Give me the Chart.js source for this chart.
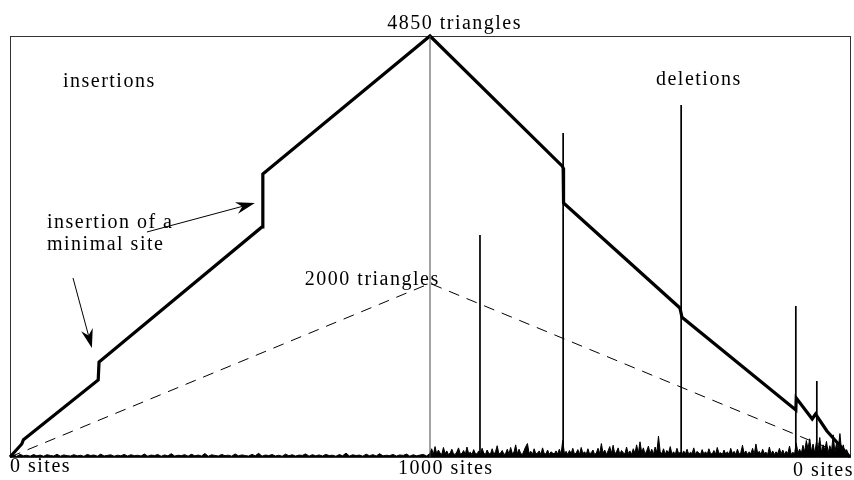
<!DOCTYPE html>
<html>
<head>
<meta charset="utf-8">
<script src="https://cdn.jsdelivr.net/npm/chart.js@4"></script>
<style>
html,body{margin:0;padding:0;background:#fff;}
#wrap{width:854px;height:480px;position:relative;}
</style>
</head>
<body>
<div id="wrap"><canvas id="c"></canvas></div>
<script>
// ---- data ----
// main curve: number of triangles vs operation step (0..1000 insertions, 1000..2000 deletions)
const triSteps  = [0, 28, 32, 210, 212, 600, 602, 1000, 1315, 1317, 1318, 1595, 1600, 1871, 1872, 1910, 1918, 1945, 2000];
const triValues = [0, 150, 200, 887, 1094, 2650, 3260, 4850, 3350, 3330, 2926, 1717, 1610, 541, 680, 438, 495, 300, 0];

// dashed reference: 2000 triangles peak
const refSteps  = [0, 1000, 2000];
const refValues = [0, 2000, 0];

// per-operation cost noise, insertion phase (every 8 steps from 0)
const noiseInsStep = 8;
const noiseIns = [
12,25,8,30,15,20,10,28,14,22,9,26,18,12,31,10,24,16,11,27,
13,20,8,29,17,23,10,33,12,19,25,9,21,14,30,11,26,15,20,12,
34,10,22,17,28,9,24,13,38,11,20,16,27,10,31,14,22,12,40,9,
25,18,12,29,15,21,10,35,13,24,17,11,30,14,42,10,23,16,28,12,
20,9,33,15,26,11,22,18,36,10,27,13,24,12,30,16,21,9,28,14,
45,11,25,17,22,10,32,15,27,12,38,13,20,16,29,11,24,18,34,10,
26,14,22,30,12];

// per-operation cost noise, deletion phase (every 4 steps from 1000)
const noiseDelStart = 1000;
const noiseDelStep = 4;
const noiseDel = [
40,95,30,120,35,80,45,30,110,40,70,30,45,90,35,30,60,105,35,40,75,30,115,40,55,
30,85,40,35,70,30,100,45,30,80,40,35,95,30,60,130,35,45,75,30,40,90,35,110,40,
55,140,35,90,40,30,75,120,155,40,65,30,95,35,45,70,30,105,40,35,80,30,60,45,35,
70,35,90,30,190,40,65,30,75,40,100,35,45,85,30,110,40,60,30,95,35,50,80,30,45,
100,35,155,45,80,30,70,120,40,135,35,60,105,30,75,50,35,115,40,70,30,95,45,140,40,
175,55,105,35,70,125,40,90,30,115,50,240,65,35,95,30,75,45,120,35,60,30,100,40,55,
30,70,35,90,30,55,40,105,30,65,45,30,85,35,60,30,95,40,35,75,30,110,40,50,30,
80,35,60,30,100,40,65,30,90,35,50,135,40,70,30,60,35,100,30,150,45,65,30,90,40,
55,30,115,35,70,30,60,40,100,35,80,30,65,40,125,30,55,35,160,45,90,40,135,60,190,
95,210,60,150,45,170,75,225,55,140,85,180,50,130,70,255,60,160,95,270,65,140,40,85,30];

// isolated expensive deletions (spikes)
const spikeSteps  = [1119, 1317, 1598, 1871, 1921];
const spikeValues = [2558, 3733, 4055, 1740, 876];

// separator between phases
const sepStep = 1000;
const yMax = 4850;
const xMax = 2000;

// ---- annotations (data coordinates) ----
const labelTexts  = ['4850 triangles','insertions','deletions','insertion of a','minimal site','2000 triangles','0 sites','1000 sites','0 sites'];
const labelSteps  = [898, 126, 1538, 88, 88, 702, 0, 924, 1864];
const labelValues = [4931, 4262, 4285, 2638, 2385, 1981, -173, -196, -219];
const arrowFrom = [[326, 2592], [150, 2062]];
const arrowTo   = [[583, 2926], [195, 1256]];

// ---- build tables ----
const triPts = triSteps.map((s,i)=>({x:s,y:triValues[i]}));
const refPts = refSteps.map((s,i)=>({x:s,y:refValues[i]}));
const noisePts = noiseIns.map((v,i)=>({x:i*noiseInsStep,y:v}))
  .concat(noiseDel.map((v,i)=>({x:noiseDelStart+i*noiseDelStep,y:v})));
const spikePts = [];
spikeSteps.forEach((s,i)=>{
  spikePts.push({x:s,y:0},{x:s,y:spikeValues[i]},{x:s+0.01,y:null});
});
const sepPts = [{x:sepStep,y:0},{x:sepStep,y:yMax}];

const decor = {
  id:'decor',
  beforeDatasetsDraw(chart){
    const {ctx, chartArea:a} = chart;
    ctx.save();
    ctx.strokeStyle='#333';
    ctx.lineWidth=1;
    ctx.strokeRect(Math.round(a.left)+0.5, Math.round(a.top)+0.5, Math.round(a.right-a.left), Math.round(a.bottom-a.top));
    ctx.restore();
  },
  afterDraw(chart){
    const {ctx, scales:{x,y}} = chart;
    ctx.save();
    ctx.fillStyle='#000';
    ctx.font='20px "Liberation Serif", serif';
    try{ ctx.letterSpacing='1.5px'; }catch(e){}
    ctx.textBaseline='alphabetic';
    ctx.textAlign='left';
    labelTexts.forEach((t,i)=>{
      ctx.fillText(t, x.getPixelForValue(labelSteps[i]), y.getPixelForValue(labelValues[i]));
    });
    // arrows
    ctx.strokeStyle='#000';
    ctx.lineWidth=1;
    arrowFrom.forEach((f,i)=>{
      const x0=x.getPixelForValue(f[0]), y0=y.getPixelForValue(f[1]);
      const x1=x.getPixelForValue(arrowTo[i][0]), y1=y.getPixelForValue(arrowTo[i][1]);
      const ang=Math.atan2(y1-y0,x1-x0);
      const L=19, W=6, N=13;
      ctx.beginPath();
      ctx.moveTo(x0,y0);
      ctx.lineTo(x1-Math.cos(ang)*N, y1-Math.sin(ang)*N);
      ctx.stroke();
      const bx=x1-Math.cos(ang)*L, by=y1-Math.sin(ang)*L;
      const nx=x1-Math.cos(ang)*N, ny=y1-Math.sin(ang)*N;
      ctx.beginPath();
      ctx.moveTo(x1,y1);
      ctx.lineTo(bx-Math.sin(ang)*W, by+Math.cos(ang)*W);
      ctx.lineTo(nx,ny);
      ctx.lineTo(bx+Math.sin(ang)*W, by-Math.cos(ang)*W);
      ctx.closePath();
      ctx.fill();
    });
    ctx.restore();
  }
};

new Chart(document.getElementById('c'), {
  type:'line',
  data:{datasets:[
    {data:sepPts, borderColor:'#444', borderWidth:1, pointRadius:0, clip:false},
    {data:noisePts, borderColor:'#000', backgroundColor:'#000', fill:'origin', borderWidth:1, pointRadius:0, clip:false},
    {data:spikePts, borderColor:'#000', borderWidth:1.7, pointRadius:0, clip:false, spanGaps:false},
    {data:refPts, borderColor:'#000', borderWidth:1, borderDash:[11,8], pointRadius:0, clip:false},
    {data:triPts, borderColor:'#000', borderWidth:3.2, pointRadius:0, clip:false, borderJoinStyle:'miter'}
  ]},
  options:{
    responsive:true, maintainAspectRatio:false, animation:false,
    layout:{padding:{left:10,right:4,top:36,bottom:23}},
    plugins:{legend:{display:false},tooltip:{enabled:false}},
    elements:{line:{tension:0}},
    scales:{
      x:{type:'linear',min:0,max:xMax,display:false},
      y:{type:'linear',min:0,max:yMax,display:false}
    }
  },
  plugins:[decor]
});
</script>
</body>
</html>
